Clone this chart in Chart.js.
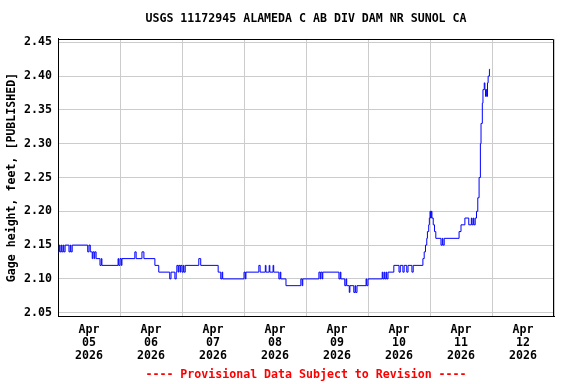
<!DOCTYPE html>
<html>
<head>
<meta charset="utf-8">
<script src="https://cdn.jsdelivr.net/npm/chart.js@4"></script>
<style>
  html, body { margin: 0; padding: 0; background: #ffffff; }
  #wrap { width: 576px; height: 384px; }
</style>
</head>
<body>
<div id="wrap"><canvas id="c" width="576" height="384"></canvas></div>
<script>
// ---- data (hours since Apr 05 2026 00:00, gage height in feet) ----
const hours = [
  0, 0.5, 0.75, 1.25, 1.5, 2, 2.25, 2.75,
  4.25, 4.75, 5, 5.5,
  11.5, 12, 12.5,
  13.25, 13.5, 14, 14.25, 14.75,
  16.25, 16.75, 17,
  23.25, 23.5, 24, 24.5, 24.75,
  29.75, 30.25,
  32.5, 33.25,
  37.5,
  39,
  43.25, 43.75,
  45.25, 45.75,
  46, 46.5, 46.75, 47.25, 47.5,
  48, 48.5, 48.75, 49.25,
  54.5, 55.25,
  62,
  63, 63.5, 63.75,
  72, 72.5, 72.75,
  77.75, 78.25,
  80.25, 80.5,
  81.75, 82,
  83.25, 83.5,
  85.5, 86, 86.25,
  88.25,
  94, 94.5, 94.75,
  101, 101.5, 101.75, 102.25, 102.5,
  108.75, 109.25, 109.5,
  111, 111.5, 111.75,
  112.75, 113,
  114.5, 115, 115.25, 115.75,
  119.25, 119.5, 120,
  125.5, 125.75, 126.25, 126.5, 127, 127.25, 127.75,
  130,
  132, 132.5,
  133.5, 134,
  135, 135.5,
  137, 137.5,
  141.25, 141.75, 142.25, 142.75, 143, 143.5, 143.75, 144, 144.25, 144.5, 144.75,
  145.25, 145.75, 146.25,
  148.25, 148.75, 149, 149.5,
  155.25, 156, 157.5,
  159, 160, 160.25, 160.75, 161,
  161.5, 162, 162.5, 163, 163.5, 163.75, 164.25, 164.5, 165, 165.25, 165.5, 165.75, 166, 166.25, 166.5, 167, 167.25
];
const gage = [
  2.14, 2.15, 2.14, 2.15, 2.14, 2.15, 2.14, 2.15,
  2.14, 2.15, 2.14, 2.15,
  2.14, 2.15, 2.14,
  2.13, 2.14, 2.13, 2.14, 2.13,
  2.12, 2.13, 2.12,
  2.13, 2.12, 2.13, 2.12, 2.13,
  2.14, 2.13,
  2.14, 2.13,
  2.12,
  2.11,
  2.10, 2.11,
  2.10, 2.11,
  2.12, 2.11, 2.12, 2.11, 2.12,
  2.11, 2.12, 2.11, 2.12,
  2.13, 2.12,
  2.11,
  2.10, 2.11, 2.10,
  2.11, 2.10, 2.11,
  2.12, 2.11,
  2.12, 2.11,
  2.12, 2.11,
  2.12, 2.11,
  2.10, 2.11, 2.10,
  2.09,
  2.10, 2.09, 2.10,
  2.11, 2.10, 2.11, 2.10, 2.11,
  2.10, 2.11, 2.10,
  2.09, 2.10, 2.09,
  2.08, 2.09,
  2.08, 2.09, 2.08, 2.09,
  2.10, 2.09, 2.10,
  2.11, 2.10, 2.11, 2.10, 2.11, 2.10, 2.11,
  2.12,
  2.11, 2.12,
  2.11, 2.12,
  2.11, 2.12,
  2.11, 2.12,
  2.13, 2.14, 2.15, 2.16, 2.17, 2.18, 2.19, 2.20, 2.19, 2.20, 2.19,
  2.18, 2.17, 2.16,
  2.15, 2.16, 2.15, 2.16,
  2.17, 2.18, 2.19,
  2.18, 2.19, 2.18, 2.19, 2.18,
  2.19, 2.20, 2.22, 2.25, 2.30, 2.33, 2.36, 2.38, 2.39, 2.38, 2.37, 2.38, 2.37, 2.39, 2.40, 2.41, 2.41
];
const dayLabels = ['05', '06', '07', '08', '09', '10', '11', '12'];
const monthLabel = 'Apr';
const yearLabel = '2026';
const yTicks = [2.05, 2.10, 2.15, 2.20, 2.25, 2.30, 2.35, 2.40, 2.45];
const titleText = 'USGS 11172945 ALAMEDA C AB DIV DAM NR SUNOL CA';
const yAxisTitle = 'Gage height, feet, [PUBLISHED]';
const footerText = '---- Provisional Data Subject to Revision ----';

// ---- chart ----
const FONT = "'DejaVu Sans Mono', monospace";
const fnt = { family: FONT, size: 11.6, weight: 'bold', lineHeight: 1.12 };
const points = hours.map((h, i) => ({ x: h, y: gage[i] }));

// top and right edges of the plot frame (left/bottom come from the axis borders)
const frame = {
  id: 'frame',
  afterDraw(chart) {
    const a = chart.chartArea, ctx = chart.ctx;
    const t = Math.round(a.top) + 0.5, r = Math.round(a.right) - 0.5;
    ctx.save();
    ctx.strokeStyle = '#000000';
    ctx.lineWidth = 1;
    ctx.beginPath();
    ctx.moveTo(Math.round(a.left), t);
    ctx.lineTo(r, t);
    ctx.lineTo(r, Math.round(a.bottom));
    ctx.stroke();
    ctx.restore();
  }
};

new Chart(document.getElementById('c'), {
  type: 'line',
  data: {
    datasets: [{
      data: points,
      borderColor: '#0000ff',
      borderWidth: 1,
      pointRadius: 0,
      fill: false,
      stepped: true,
      tension: 0
    }]
  },
  options: {
    responsive: false,
    devicePixelRatio: 1,
    animation: false,
    layout: { padding: { left: 0, right: 22, top: 0, bottom: 0 } },
    plugins: {
      legend: { display: false },
      tooltip: { enabled: false },
      title: {
        display: true, text: titleText, fullSize: false,
        color: '#000000', font: { family: FONT, size: 11.6, weight: 'bold', lineHeight: 1.2 },
        padding: { top: 12, bottom: 13 }
      },
      subtitle: {
        display: true, text: footerText, position: 'bottom', fullSize: false,
        color: '#ff0000', font: { family: FONT, size: 11.6, weight: 'bold', lineHeight: 1.2 },
        padding: { top: 4, bottom: 2 }
      }
    },
    scales: {
      x: {
        type: 'linear', min: 0, max: 192,
        afterBuildTicks: s => { s.ticks = []; for (let h = 0; h <= 192; h += 12) s.ticks.push({ value: h }); },
        afterFit: s => { s.height = 48; },
        grid: {
          color: c => (c.tick && c.tick.value % 24 === 0) ? '#cccccc' : 'rgba(0,0,0,0)',
          lineWidth: 1, drawTicks: false
        },
        border: { color: '#000000', width: 1 },
        ticks: {
          autoSkip: false, maxRotation: 0, minRotation: 0, padding: 7,
          color: '#000000', font: fnt,
          callback: v => (v % 24 === 12) ? [monthLabel, dayLabels[(v - 12) / 24], yearLabel] : ''
        }
      },
      y: {
        type: 'linear', min: 2.045, max: 2.455,
        afterBuildTicks: s => { s.ticks = yTicks.map(v => ({ value: v })); },
        afterFit: s => { s.width = 58; },
        grid: { color: '#cccccc', lineWidth: 1, drawTicks: false },
        border: { color: '#000000', width: 1 },
        ticks: { padding: 6, color: '#000000', font: fnt, callback: v => v.toFixed(2) },
        title: {
          display: true, text: yAxisTitle, color: '#000000',
          font: { family: FONT, size: 11.6, weight: 'bold', lineHeight: 1.2 },
          padding: { top: 5, bottom: 0 }
        }
      }
    }
  },
  plugins: [frame]
});
</script>
</body>
</html>
